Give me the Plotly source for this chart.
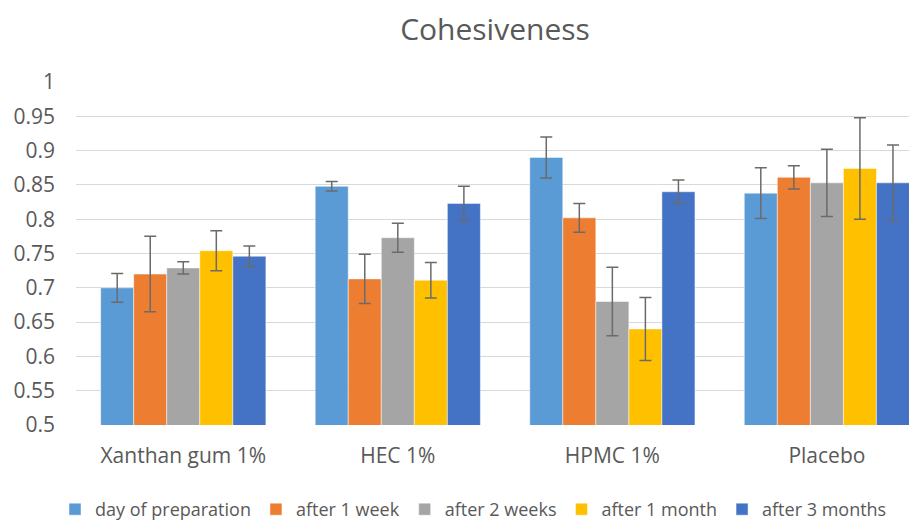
import plotly.graph_objects as go

categories = ["Xanthan gum 1%", "HEC 1%", "HPMC 1%", "Placebo"]
series_names = ["day of preparation", "after 1 week", "after 2 weeks", "after 1 month", "after 3 months"]
colors = ["#5B9BD5", "#ED7D31", "#A5A5A5", "#FFC000", "#4472C4"]

day_of_preparation = [0.700, 0.848, 0.890, 0.838]
after_1_week = [0.720, 0.713, 0.802, 0.861]
after_2_weeks = [0.729, 0.773, 0.680, 0.853]
after_1_month = [0.754, 0.711, 0.640, 0.874]
after_3_months = [0.746, 0.823, 0.840, 0.853]

err_day_of_preparation = [0.021, 0.007, 0.030, 0.037]
err_after_1_week = [0.055, 0.036, 0.021, 0.017]
err_after_2_weeks = [0.009, 0.021, 0.050, 0.049]
err_after_1_month = [0.029, 0.026, 0.046, 0.074]
err_after_3_months = [0.015, 0.025, 0.017, 0.055]

values = [day_of_preparation, after_1_week, after_2_weeks, after_1_month, after_3_months]
errors = [err_day_of_preparation, err_after_1_week, err_after_2_weeks, err_after_1_month, err_after_3_months]

tick_vals = [0.5, 0.55, 0.6, 0.65, 0.7, 0.75, 0.8, 0.85, 0.9, 0.95, 1]
tick_text = ["0.5", "0.55", "0.6", "0.65", "0.7", "0.75", "0.8", "0.85", "0.9", "0.95", "1"]

FONT = "Open Sans"
TXT = "#595959"
fig = go.Figure()
for name, vals, errs, col in zip(series_names, values, errors, colors):
    fig.add_trace(go.Bar(
        name=name, x=categories, y=vals,
        marker=dict(color=col, line=dict(color="rgba(255,255,255,0.6)", width=0.8)),
        error_y=dict(type="data", array=errs, visible=True, color="#6b6b6b", thickness=1.5, width=6),
    ))

# the page body adds an 8 px offset, so the figure is 8 px smaller than the window
fig.update_layout(
    width=909, height=512,
    paper_bgcolor="white", plot_bgcolor="white",
    barmode="group", bargap=0.23, bargroupgap=0,
    margin=dict(l=68, r=0, t=74, b=95),
    title=dict(text="Cohesiveness", x=487/909, xanchor="center", xref="container",
               y=1-21/512, yanchor="middle", yref="container",
               font=dict(family=FONT, size=30, color=TXT)),
    font=dict(family=FONT, size=21, color=TXT),
    xaxis=dict(range=[-0.5, 3.42], showgrid=False, showline=False, zeroline=False,
               tickfont=dict(family=FONT, size=21, color=TXT), ticks="", ticklabelstandoff=16),
    yaxis=dict(range=[0.5, 1.0], tickvals=tick_vals, ticktext=tick_text, showgrid=True,
               gridcolor="#d9d9d9", gridwidth=1, zeroline=False, showline=False,
               tickfont=dict(family=FONT, size=21, color=TXT), ticklen=0, ticks="",
               ticklabelstandoff=20),
    legend=dict(orientation="h", x=47/909, xanchor="left", xref="container",
                y=1-483/512, yanchor="top", yref="container",
                font=dict(family=FONT, size=18, color=TXT), itemwidth=30, traceorder="normal"),
)
fig.write_html("out.html")
